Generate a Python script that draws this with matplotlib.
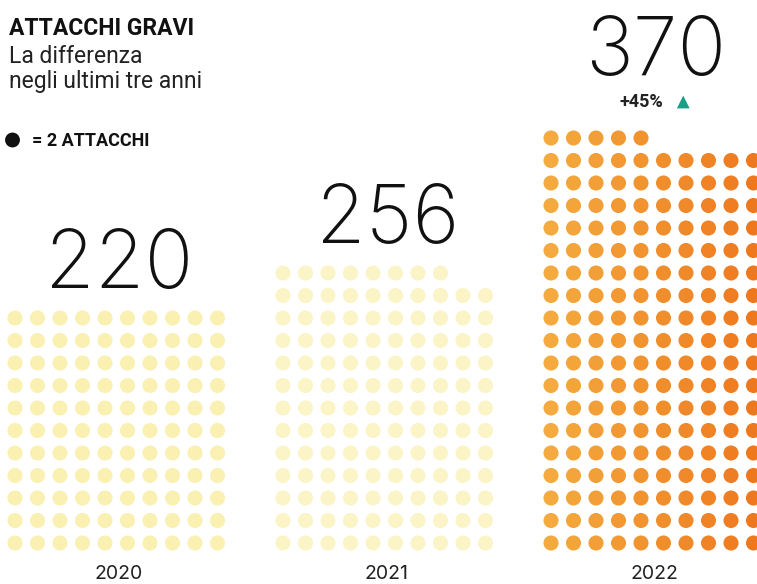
"""Dot-grid chart: serious cyber attacks over the last three years."""

import matplotlib

matplotlib.use("Agg")
import matplotlib.pyplot as plt
import numpy as np
from matplotlib.colors import LinearSegmentedColormap

YEARS = ["2020", "2021", "2022"]
ATTACKS = [220, 256, 370]
ATTACKS_PER_DOT = 2
GROWTH_LABEL = "+45%"

TITLE = "ATTACCHI GRAVI"
SUBTITLE = ["La differenza", "negli ultimi tre anni"]
LEGEND = "= 2 ATTACCHI"

# layout (pixels, figure is 757x584)
W, H = 757, 584
COLS = 10
DX, DY = 22.5, 22.5
BOTTOM_ROW_Y = 543
FIRST_COL_X = [15, 283, 551]
DOT_SIZE = 118
NUMBER_GAP = 30          # top dot row -> baseline of the big number
GROWTH_EXTRA = 33        # extra room for the "+45%" line on the last column
YEAR_COLORS = ["#F9F0B2", "#FBF4C6", None]
HOT_CMAP = LinearSegmentedColormap.from_list("hot", ["#F4AA3E", "#EE781E"])

plt.rcParams["font.family"] = ["Roboto", "DejaVu Sans"]

fig = plt.figure(figsize=(W / 100, H / 100), dpi=100)
ax = fig.add_axes([0, 0, 1, 1])
ax.set_xlim(0, W)
ax.set_ylim(H, 0)
ax.axis("off")

for i, (year, total) in enumerate(zip(YEARS, ATTACKS)):
    n = total // ATTACKS_PER_DOT
    idx = np.arange(n)
    col = idx % COLS
    row = idx // COLS
    x = FIRST_COL_X[i] + col * DX
    y = BOTTOM_ROW_Y - row * DY
    if YEAR_COLORS[i] is None:
        colors = HOT_CMAP(col / (COLS - 1))
    else:
        colors = YEAR_COLORS[i]
    ax.scatter(x, y, s=DOT_SIZE, c=colors, edgecolors="none")

    center = FIRST_COL_X[i] + (COLS - 1) * DX / 2
    top = BOTTOM_ROW_Y - row.max() * DY
    gap = NUMBER_GAP + (GROWTH_EXTRA if i == len(YEARS) - 1 else 0)
    ax.text(center + 3, top - gap, str(total), ha="center", va="baseline",
            fontsize=58, family=["Inter", "DejaVu Sans"], fontweight=200,
            color="#111111")
    ax.text(center + 2, 579, year, ha="center", va="baseline", fontsize=14,
            family=["Inter", "DejaVu Sans"], color="#222222")

# growth marker under the last number
last_center = FIRST_COL_X[-1] + (COLS - 1) * DX / 2
ax.text(last_center - 11, 107, GROWTH_LABEL, ha="center", va="baseline",
        fontsize=13, fontweight="bold", color="#222222")
ax.scatter([last_center + 31], [102], marker="^", s=85, color="#1A9E8A",
           edgecolors="none")

ax.text(9, 35, TITLE, ha="left", va="baseline", fontsize=16.5,
        fontweight="bold", color="#111111")
for k, line in enumerate(SUBTITLE):
    ax.text(9, 63 + k * 25, line, ha="left", va="baseline", fontsize=16.5,
            color="#222222")
ax.scatter([12.5], [140], s=115, color="#111111", edgecolors="none")
ax.text(32, 146, LEGEND, ha="left", va="baseline", fontsize=13,
        fontweight="bold", color="#111111")

fig.savefig("out.png", dpi=100)
